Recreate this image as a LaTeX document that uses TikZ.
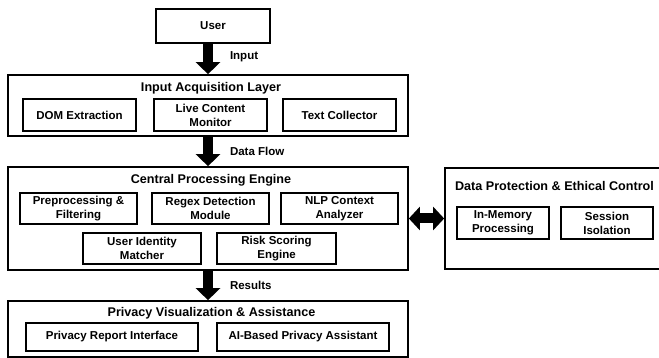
\documentclass[tikz,border=0pt]{standalone}
\usepackage{fontspec}
\setmainfont{Liberation Sans}
\usetikzlibrary{arrows.meta}
\tikzset{
    rahmen/.style={draw, line width=1.7pt, inner sep=0pt},
    modul/.style={draw, line width=1.7pt, inner sep=0pt, align=center,
        font=\bfseries\fontsize{11.5}{14}\selectfont},
    titel/.style={inner sep=0pt, font=\bfseries\fontsize{12.6}{15}\selectfont},
    beschriftung/.style={inner sep=0pt, font=\bfseries\fontsize{11.5}{14}\selectfont},
    fluss/.style={line width=10pt, -{Triangle[length=12pt, width=24pt]}},
    beidseitig/.style={line width=10pt,
        {Triangle[length=11pt, width=23pt]}-{Triangle[length=11pt, width=23pt]}}
}

\begin{document}
\begin{tikzpicture}[x=1pt, y=-1pt]
\useasboundingbox (0,0) rectangle (659,358);

% Nutzer
\node[modul, minimum width=114, minimum height=34] (nutzer) at (213,26) {User};

% Erfassungsschicht
\node[rahmen, minimum width=400, minimum height=61] (erfassung) at (208,105.5) {};
\node[titel] (erfassungtitel) at (211,88) {Input Acquisition Layer};
\node[modul, minimum width=113, minimum height=32] (dom) at (79.5,115) {DOM Extraction};
\node[modul, minimum width=113, minimum height=32] (live) at (210.5,115) {Live Content\\Monitor};
\node[modul, minimum width=113, minimum height=32] (text) at (339.5,115) {Text Collector};

% Zentrale Verarbeitung
\node[rahmen, minimum width=400, minimum height=103] (zentrale) at (208,218.5) {};
\node[titel] (zentraletitel) at (211,180) {Central Processing Engine};
\node[modul, minimum width=117, minimum height=31] (vorverarbeitung) at (78.5,208.5) {Preprocessing \&\\Filtering};
\node[modul, minimum width=117, minimum height=31] (regex) at (210.5,208.5) {Regex Detection\\Module};
\node[modul, minimum width=117, minimum height=31] (nlp) at (339.5,208.5) {NLP Context\\Analyzer};
\node[modul, minimum width=118, minimum height=31] (identitaet) at (142,248.5) {User Identity\\Matcher};
\node[modul, minimum width=119, minimum height=31] (risiko) at (276.5,248.5) {Risk Scoring\\Engine};

% Datenschutz
\node[rahmen, minimum width=230, minimum height=101] (schutz) at (560,218.5) {};
\node[titel] (schutztitel) at (554.5,186) {Data Protection \& Ethical Control};
\node[modul, minimum width=92, minimum height=32] (speicher) at (503,223) {In-Memory\\Processing};
\node[modul, minimum width=92, minimum height=32] (sitzung) at (607,223) {Session\\Isolation};

% Visualisierung
\node[rahmen, minimum width=400, minimum height=56] (anzeige) at (208,329) {};
\node[titel] (anzeigetitel) at (211.5,313) {Privacy Visualization \& Assistance};
\node[modul, minimum width=172, minimum height=28] (bericht) at (112,337) {Privacy Report Interface};
\node[modul, minimum width=172, minimum height=28] (assistent) at (303,337) {AI-Based Privacy Assistant};

% Pfeile
\draw[fluss] (nutzer.south -| erfassung.north) -- (erfassung.north)
    node[beschriftung, pos=0.44, right=17pt] {Input};
\draw[fluss] (erfassung.south) -- (zentrale.north)
    node[beschriftung, midway, right=17pt] {Data Flow};
\draw[fluss] (zentrale.south) -- (anzeige.north)
    node[beschriftung, midway, right=17pt] {Results};
\draw[beidseitig] (zentrale.east) -- (schutz.west);
\end{tikzpicture}
\end{document}
